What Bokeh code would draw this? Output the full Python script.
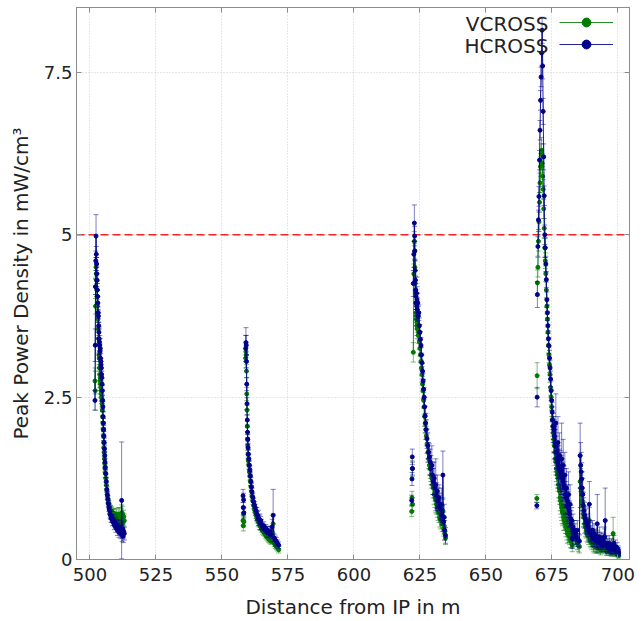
from bokeh.plotting import figure
from bokeh.models import (ColumnDataSource, Range1d, Span, LinearAxis, FixedTicker,
                          CustomJSTickFormatter, Label, Legend, LegendItem)
from bokeh.embed import file_html
from bokeh.resources import INLINE

# ---------------- data ----------------
x_ticks = [500, 525, 550, 575, 600, 625, 650, 675, 700]
y_ticks = [0, 2.5, 5, 7.5]
limit_value = 5.0

# cluster 1 (no detached points)
dist_1 = [501.9, 502.0, 502.1, 502.2, 502.3, 502.4, 502.5, 502.6, 502.7, 502.8,
          502.9, 503.0, 503.1, 503.2, 503.3, 503.4, 503.5, 503.6, 503.7, 503.8,
          503.9, 504.0, 504.1, 504.2, 504.3, 504.4, 504.5, 504.6, 504.7, 504.8,
          504.9, 505.0, 505.1, 505.2, 505.3, 505.4, 505.5, 505.6, 505.7, 505.8,
          506.0, 506.2, 506.4, 506.6, 506.8, 507.0, 507.2, 507.4, 507.6, 507.8,
          508.0, 508.3, 508.6, 508.9, 509.2, 509.5, 509.8, 510.1, 510.4, 510.7,
          511.0, 511.3, 511.6, 511.9, 512.0, 512.2, 512.4, 512.6, 512.8, 513.0]
hcross_1 = [2.45, 3.30, 4.20, 4.60, 4.98, 4.70, 4.55, 4.40, 4.30, 4.15,
            4.05, 3.95, 3.80, 3.75, 3.60, 3.50, 3.40, 3.35, 3.30, 3.20,
            3.25, 3.10, 3.05, 3.00, 2.95, 2.85, 2.80, 2.70, 2.60, 2.45,
            2.35, 2.20, 2.10, 2.00, 1.90, 1.80, 1.70, 1.60, 1.50, 1.42,
            1.32, 1.20, 1.08, 1.00, 0.93, 0.86, 0.80, 0.76, 0.70, 0.68,
            0.63, 0.66, 0.58, 0.61, 0.53, 0.57, 0.49, 0.54, 0.45, 0.51,
            0.42, 0.50, 0.40, 0.46, 0.91, 0.38, 0.47, 0.36, 0.43, 0.40]
hcross_err_1 = [0.15, 0.25, 0.12, 0.15, 0.33, 0.12, 0.10, 0.10, 0.10, 0.10,
                0.10, 0.10, 0.09, 0.09, 0.20, 0.15, 0.18, 0.20, 0.15, 0.12,
                0.15, 0.12, 0.12, 0.10, 0.10, 0.10, 0.10, 0.09, 0.08, 0.08,
                0.08, 0.08, 0.07, 0.07, 0.07, 0.07, 0.06, 0.06, 0.06, 0.06,
                0.06, 0.06, 0.05, 0.05, 0.05, 0.05, 0.06, 0.06, 0.06, 0.06,
                0.06, 0.08, 0.06, 0.08, 0.07, 0.08, 0.07, 0.08, 0.08, 0.10,
                0.08, 0.10, 0.08, 0.10, 0.90, 0.10, 0.12, 0.10, 0.10, 0.10]
vcross_1 = [2.75, 2.60, 3.90, 4.20, 4.50, 4.40, 4.30, 4.15, 4.05, 3.90,
            3.80, 3.70, 3.55, 3.40, 3.30, 3.15, 3.10, 2.95, 2.85, 2.75,
            2.80, 2.70, 2.65, 2.60, 2.55, 2.50, 2.45, 2.40, 2.30, 2.20,
            2.10, 2.00, 1.90, 1.80, 1.72, 1.65, 1.55, 1.48, 1.40, 1.33,
            1.25, 1.15, 1.06, 0.98, 0.92, 0.88, 0.84, 0.80, 0.77, 0.75,
            0.72, 0.74, 0.69, 0.71, 0.66, 0.70, 0.64, 0.68, 0.62, 0.70,
            0.60, 0.68, 0.58, 0.66, 0.72, 0.55, 0.70, 0.58, 0.66, 0.60]
vcross_err_1 = [0.20, 0.30, 0.12, 0.12, 0.15, 0.12, 0.10, 0.10, 0.10, 0.10,
                0.10, 0.10, 0.10, 0.10, 0.12, 0.15, 0.20, 0.25, 0.20, 0.20,
                0.20, 0.15, 0.15, 0.12, 0.12, 0.10, 0.10, 0.08, 0.08, 0.08,
                0.08, 0.07, 0.07, 0.07, 0.06, 0.06, 0.06, 0.06, 0.06, 0.06,
                0.06, 0.06, 0.06, 0.06, 0.06, 0.06, 0.07, 0.07, 0.07, 0.08,
                0.08, 0.08, 0.08, 0.08, 0.08, 0.08, 0.08, 0.10, 0.10, 0.10,
                0.10, 0.12, 0.10, 0.12, 0.12, 0.10, 0.12, 0.10, 0.10, 0.10]
detached_1 = 0

# cluster 2 (first 4 points detached)
dist_2 = [558.0, 558.1, 558.2, 558.3, 559.0, 559.1, 559.2, 559.3, 559.4, 559.5,
          559.6, 559.7, 559.8, 559.9, 560.0, 560.2, 560.4, 560.6, 560.8, 561.0,
          561.2, 561.4, 561.7, 562.0, 562.3, 562.6, 562.9, 563.2, 563.5, 563.8,
          564.1, 564.4, 564.7, 565.0, 565.4, 565.8, 566.2, 566.6, 567.0, 567.4,
          567.8, 568.2, 568.6, 569.0, 569.4, 569.8, 570.2, 570.6, 571.0, 571.5]
hcross_2 = [0.98, 0.80, 0.92, 0.72, 3.25, 3.34, 3.30, 3.05, 2.70, 2.40,
            2.15, 1.96, 1.85, 1.72, 1.62, 1.55, 1.45, 1.38, 1.29, 1.20,
            1.12, 1.04, 0.96, 0.89, 0.84, 0.80, 0.75, 0.70, 0.68, 0.64,
            0.62, 0.58, 0.60, 0.54, 0.50, 0.52, 0.46, 0.48, 0.42, 0.45,
            0.40, 0.43, 0.38, 0.50, 0.68, 0.33, 0.30, 0.28, 0.25, 0.22]
hcross_err_2 = [0.10, 0.08, 0.10, 0.08, 0.20, 0.23, 0.15, 0.10, 0.10, 0.09,
                0.08, 0.08, 0.08, 0.07, 0.07, 0.07, 0.07, 0.06, 0.06, 0.06,
                0.06, 0.06, 0.05, 0.05, 0.05, 0.05, 0.05, 0.10, 0.06, 0.12,
                0.06, 0.12, 0.06, 0.08, 0.06, 0.06, 0.06, 0.06, 0.08, 0.06,
                0.06, 0.08, 0.06, 0.12, 0.40, 0.06, 0.06, 0.06, 0.05, 0.05]
vcross_2 = [0.60, 0.52, 0.70, 0.58, 3.10, 3.20, 3.15, 2.90, 2.55, 2.30,
            2.05, 1.85, 1.75, 1.62, 1.52, 1.45, 1.35, 1.28, 1.20, 1.12,
            1.05, 0.97, 0.90, 0.83, 0.77, 0.73, 0.68, 0.64, 0.61, 0.58,
            0.55, 0.52, 0.50, 0.47, 0.44, 0.42, 0.40, 0.37, 0.35, 0.33,
            0.31, 0.30, 0.28, 0.42, 0.55, 0.25, 0.22, 0.20, 0.18, 0.15]
vcross_err_2 = [0.08, 0.08, 0.08, 0.08, 0.15, 0.15, 0.12, 0.10, 0.10, 0.08,
                0.08, 0.07, 0.07, 0.07, 0.06, 0.06, 0.06, 0.06, 0.06, 0.05,
                0.05, 0.05, 0.05, 0.05, 0.05, 0.05, 0.05, 0.06, 0.05, 0.06,
                0.05, 0.06, 0.05, 0.05, 0.05, 0.05, 0.05, 0.05, 0.05, 0.05,
                0.05, 0.05, 0.05, 0.10, 0.15, 0.05, 0.05, 0.05, 0.05, 0.05]
detached_2 = 4

# cluster 3 (first 4 points detached)
dist_3 = [621.9, 622.0, 622.1, 622.2, 622.5, 622.7, 622.9, 623.0, 623.1, 623.2,
          623.3, 623.4, 623.5, 623.6, 623.7, 623.8, 623.9, 624.0, 624.2, 624.4,
          624.6, 624.8, 625.0, 625.2, 625.4, 625.6, 625.8, 626.0, 626.2, 626.4,
          626.6, 626.8, 627.0, 627.2, 627.4, 627.7, 628.0, 628.3, 628.6, 628.9,
          629.2, 629.5, 629.8, 630.1, 630.4, 630.7, 631.0, 631.3, 631.6, 631.9,
          632.2, 632.5, 632.8, 633.1, 633.4, 633.7, 634.0, 634.2, 634.4, 634.7]
hcross_3 = [0.91, 1.24, 1.58, 1.40, 4.25, 4.70, 5.18, 4.98, 4.75, 4.45,
            4.30, 4.15, 4.05, 3.95, 4.10, 3.90, 4.00, 3.85, 3.95, 3.75,
            3.80, 3.60, 3.50, 3.39, 3.30, 3.15, 3.03, 2.90, 2.75, 2.62,
            2.50, 2.35, 2.21, 2.10, 2.00, 1.86, 1.75, 1.65, 1.58, 1.50,
            1.40, 1.45, 1.30, 1.20, 1.25, 1.10, 1.15, 0.98, 1.05, 0.90,
            0.95, 0.82, 0.78, 0.85, 0.68, 1.30, 0.58, 0.65, 0.45, 0.37]
hcross_err_3 = [0.08, 0.10, 0.12, 0.10, 0.20, 0.20, 0.28, 0.15, 0.15, 0.15,
                0.15, 0.20, 0.20, 0.20, 0.25, 0.20, 0.20, 0.18, 0.15, 0.15,
                0.12, 0.12, 0.12, 0.12, 0.12, 0.12, 0.12, 0.12, 0.12, 0.15,
                0.15, 0.15, 0.15, 0.15, 0.15, 0.15, 0.20, 0.15, 0.20, 0.20,
                0.20, 0.30, 0.20, 0.20, 0.25, 0.20, 0.40, 0.20, 0.25, 0.20,
                0.20, 0.20, 0.20, 0.25, 0.15, 0.37, 0.15, 0.20, 0.15, 0.12]
vcross_3 = [0.74, 0.95, 1.40, 0.85, 3.19, 4.40, 4.90, 4.75, 4.50, 4.25,
            4.10, 3.95, 3.80, 3.70, 3.75, 3.60, 3.65, 3.55, 3.60, 3.45,
            3.50, 3.35, 3.25, 3.15, 3.05, 2.95, 2.85, 2.70, 2.60, 2.45,
            2.35, 2.20, 2.10, 2.00, 1.90, 1.78, 1.65, 1.55, 1.45, 1.40,
            1.30, 1.25, 1.15, 1.10, 1.00, 0.95, 0.92, 0.85, 0.80, 0.75,
            0.72, 0.65, 0.62, 0.70, 0.55, 0.75, 0.48, 0.52, 0.40, 0.33]
vcross_err_3 = [0.08, 0.10, 0.12, 0.10, 0.15, 0.15, 0.15, 0.12, 0.12, 0.12,
                0.15, 0.15, 0.15, 0.15, 0.15, 0.15, 0.15, 0.15, 0.15, 0.12,
                0.12, 0.12, 0.12, 0.12, 0.12, 0.12, 0.12, 0.12, 0.12, 0.12,
                0.12, 0.15, 0.15, 0.15, 0.15, 0.15, 0.15, 0.15, 0.15, 0.15,
                0.15, 0.15, 0.15, 0.15, 0.15, 0.15, 0.20, 0.15, 0.15, 0.15,
                0.15, 0.15, 0.15, 0.15, 0.12, 0.20, 0.12, 0.12, 0.10, 0.10]
detached_3 = 4

# cluster 4 (first 3 points detached)
dist_4 = [669.3, 669.4, 669.5, 669.7, 669.9, 670.1, 670.3, 670.5, 670.7, 670.9,
          671.1, 671.3, 671.5, 671.7, 671.9, 672.1, 672.3, 672.5, 672.7, 672.9,
          673.1, 673.3, 673.5, 673.7, 673.9, 674.1, 674.3, 674.5, 674.7, 674.9,
          675.1, 675.3, 675.5, 675.7, 675.9, 676.1, 676.3, 676.5, 676.7, 676.9,
          677.1, 677.3, 677.5, 677.7, 677.9, 678.1, 678.3, 678.5, 678.7, 678.9,
          679.1, 679.3, 679.5, 679.7, 679.9, 680.1, 680.3, 680.5, 680.7, 680.9,
          681.1, 681.3, 681.5, 681.7, 681.9, 682.1, 682.3, 682.5, 682.7, 683.0,
          683.4, 683.8, 684.2, 684.6, 685.0, 685.4, 685.7, 685.9, 686.1, 686.3,
          686.5, 686.7, 686.9, 687.1, 687.4, 687.7, 688.0, 688.3, 688.6, 688.9,
          689.2, 689.5, 689.8, 690.1, 690.4, 690.7, 691.0, 691.3, 691.6, 691.9,
          692.2, 692.5, 692.8, 693.1, 693.4, 693.7, 694.0, 694.3, 694.6, 694.9,
          695.2, 695.5, 695.8, 696.1, 696.4, 696.7, 697.0, 697.3, 697.6, 697.9,
          698.2, 698.5, 698.8, 699.1, 699.4, 699.7, 699.9, 700.1, 700.2, 700.3]
hcross_4 = [0.83, 2.50, 4.08, 4.82, 5.23, 5.59, 6.15, 6.61, 7.07, 7.43,
            7.80, 8.15, 7.60, 6.90, 6.20, 5.60, 5.00, 4.80, 4.55, 4.31,
            4.00, 3.80, 3.60, 3.40, 3.29, 3.10, 2.95, 2.78, 2.60, 2.45,
            2.27, 2.15, 2.05, 2.00, 1.90, 1.80, 1.75, 2.10, 1.65, 1.55,
            1.50, 1.80, 1.45, 1.40, 1.60, 1.38, 1.35, 1.30, 1.55, 1.25,
            1.20, 1.45, 1.14, 1.10, 1.30, 1.00, 0.95, 1.10, 0.83, 0.90,
            0.80, 1.00, 0.75, 0.70, 0.85, 0.63, 0.55, 0.60, 0.32, 0.50,
            0.45, 0.40, 0.35, 0.45, 0.30, 0.28, 1.60, 1.45, 1.35, 1.24,
            1.10, 1.00, 0.83, 0.75, 0.68, 0.62, 0.58, 0.55, 0.50, 0.45,
            0.85, 0.42, 0.40, 0.36, 0.45, 0.32, 0.40, 0.30, 0.35, 0.28,
            0.55, 0.30, 0.26, 0.35, 0.25, 0.30, 0.22, 0.28, 0.22, 0.35,
            0.60, 0.25, 0.20, 0.22, 0.18, 0.25, 0.20, 0.16, 0.22, 0.18,
            0.17, 0.25, 0.15, 0.20, 0.14, 0.18, 0.12, 0.15, 0.12, 0.10]
hcross_err_4 = [0.05, 0.15, 0.20, 0.15, 0.15, 0.15, 0.15, 0.15, 0.15, 0.15,
                0.20, 0.20, 0.20, 0.20, 0.20, 0.15, 0.15, 0.15, 0.12, 0.12,
                0.12, 0.12, 0.12, 0.12, 0.12, 0.12, 0.12, 0.12, 0.15, 0.15,
                0.15, 0.20, 0.20, 0.20, 0.25, 0.25, 0.25, 0.45, 0.25, 0.25,
                0.25, 0.40, 0.30, 0.30, 0.35, 0.30, 0.30, 0.30, 0.55, 0.30,
                0.30, 0.40, 0.30, 0.30, 0.35, 0.30, 0.25, 0.30, 0.25, 0.25,
                0.25, 0.35, 0.25, 0.20, 0.30, 0.20, 0.20, 0.20, 0.15, 0.20,
                0.15, 0.15, 0.12, 0.15, 0.10, 0.10, 0.50, 0.35, 0.30, 0.25,
                0.25, 0.25, 0.20, 0.20, 0.20, 0.20, 0.20, 0.15, 0.15, 0.15,
                0.35, 0.15, 0.12, 0.12, 0.15, 0.12, 0.15, 0.10, 0.12, 0.10,
                0.45, 0.12, 0.10, 0.15, 0.10, 0.12, 0.10, 0.12, 0.10, 0.15,
                0.50, 0.10, 0.08, 0.10, 0.08, 0.12, 0.10, 0.08, 0.10, 0.08,
                0.08, 0.12, 0.06, 0.10, 0.06, 0.08, 0.06, 0.06, 0.06, 0.05]
vcross_4 = [0.94, 2.83, 4.26, 4.50, 4.90, 5.20, 5.50, 5.80, 6.05, 6.25,
            6.30, 6.10, 5.90, 5.70, 5.40, 5.10, 4.80, 4.60, 4.40, 4.15,
            3.90, 3.70, 3.50, 3.30, 3.15, 3.00, 2.85, 2.65, 2.50, 2.35,
            2.15, 2.05, 1.95, 1.85, 1.75, 1.65, 1.55, 1.50, 1.40, 1.35,
            1.30, 1.25, 1.15, 1.10, 1.05, 0.95, 0.90, 0.85, 0.80, 0.75,
            0.72, 0.80, 0.65, 0.60, 0.70, 0.55, 0.50, 0.60, 0.45, 0.40,
            0.50, 0.38, 0.45, 0.35, 0.42, 0.30, 0.28, 0.35, 0.22, 0.30,
            0.45, 0.35, 0.30, 0.25, 0.22, 0.20, 1.20, 1.10, 1.05, 1.00,
            0.90, 0.85, 0.70, 0.65, 0.55, 0.50, 0.45, 0.40, 0.38, 0.35,
            0.60, 0.30, 0.28, 0.25, 0.32, 0.22, 0.20, 0.25, 0.22, 0.18,
            0.30, 0.20, 0.18, 0.25, 0.15, 0.20, 0.18, 0.25, 0.20, 0.35,
            0.22, 0.15, 0.12, 0.18, 0.15, 0.12, 0.15, 0.12, 0.10, 0.12,
            0.40, 0.15, 0.10, 0.12, 0.10, 0.12, 0.08, 0.10, 0.08, 0.06]
vcross_err_4 = [0.06, 0.20, 0.20, 0.15, 0.15, 0.15, 0.15, 0.15, 0.15, 0.15,
                0.20, 0.15, 0.15, 0.15, 0.15, 0.15, 0.15, 0.12, 0.12, 0.12,
                0.12, 0.12, 0.12, 0.12, 0.12, 0.12, 0.12, 0.12, 0.12, 0.15,
                0.15, 0.15, 0.15, 0.20, 0.20, 0.20, 0.20, 0.20, 0.20, 0.20,
                0.20, 0.20, 0.20, 0.20, 0.20, 0.20, 0.20, 0.20, 0.20, 0.20,
                0.20, 0.25, 0.20, 0.15, 0.20, 0.15, 0.15, 0.20, 0.15, 0.15,
                0.15, 0.12, 0.15, 0.12, 0.15, 0.12, 0.10, 0.12, 0.10, 0.12,
                0.15, 0.12, 0.10, 0.10, 0.10, 0.10, 0.40, 0.30, 0.25, 0.25,
                0.20, 0.20, 0.20, 0.15, 0.15, 0.15, 0.12, 0.12, 0.12, 0.12,
                0.20, 0.10, 0.10, 0.10, 0.12, 0.10, 0.10, 0.10, 0.10, 0.08,
                0.15, 0.08, 0.08, 0.10, 0.08, 0.10, 0.08, 0.10, 0.08, 0.12,
                0.10, 0.08, 0.06, 0.08, 0.06, 0.06, 0.06, 0.06, 0.05, 0.06,
                0.25, 0.06, 0.05, 0.06, 0.05, 0.05, 0.04, 0.05, 0.04, 0.04]
detached_4 = 3

clusters = [
    (dist_1, vcross_1, vcross_err_1, hcross_1, hcross_err_1, detached_1),
    (dist_2, vcross_2, vcross_err_2, hcross_2, hcross_err_2, detached_2),
    (dist_3, vcross_3, vcross_err_3, hcross_3, hcross_err_3, detached_3),
    (dist_4, vcross_4, vcross_err_4, hcross_4, hcross_err_4, detached_4),
]

# ---------------- styling ----------------
FONT = "DejaVu Sans"
GREEN = "#007a00"
BLUE = "#00008b"
FRAME = "#8c8c8c"
TEXT = "#222222"

p = figure(width=643, height=621,
           x_range=Range1d(494.9, 704.4), y_range=Range1d(0, 8.5),
           output_backend="svg", toolbar_location=None,
           min_border_left=76, min_border_right=14, min_border_top=7, min_border_bottom=60)
p.background_fill_color = "white"
p.border_fill_color = "white"
p.outline_line_color = FRAME
p.outline_line_width = 1

xt = FixedTicker(ticks=x_ticks)
yt = FixedTicker(ticks=y_ticks)
fmt = CustomJSTickFormatter(code="return tick.toString();")
blank_fmt = CustomJSTickFormatter(code="return '';")

p.xaxis.ticker = xt
p.yaxis.ticker = yt
p.xaxis.formatter = fmt
p.yaxis.formatter = fmt
p.xgrid.ticker = xt
p.ygrid.ticker = yt
for g in (p.xgrid, p.ygrid):
    g.grid_line_color = "#cfcfcf"
    g.grid_line_dash = "1 2"
    g.grid_line_width = 1

p.xaxis.axis_label = "Distance from IP in m"
p.yaxis.axis_label = "Peak Power Density in mW/cm\u00b3"
for ax in (p.xaxis[0], p.yaxis[0]):
    ax.axis_line_color = FRAME
    ax.major_tick_line_color = FRAME
    ax.major_tick_in = 5
    ax.major_tick_out = 0
    ax.minor_tick_line_color = None
    ax.major_label_text_font = FONT
    ax.major_label_text_font_size = "18px"
    ax.major_label_text_color = TEXT
    ax.axis_label_text_font = FONT
    ax.axis_label_text_font_size = "20px"
    ax.axis_label_text_font_style = "normal"
    ax.axis_label_text_color = TEXT
p.xaxis.major_label_standoff = 8
p.xaxis.axis_label_standoff = 11
p.yaxis.major_label_standoff = 4
p.yaxis.axis_label_standoff = 8

# mirrored inward ticks on top and right
for side, tk in (("right", yt), ("above", xt)):
    ax = LinearAxis(ticker=tk, formatter=blank_fmt)
    ax.major_label_standoff = 0
    ax.axis_line_color = FRAME
    ax.major_tick_line_color = FRAME
    ax.major_tick_in = 5
    ax.major_tick_out = 0
    ax.minor_tick_line_color = None
    p.add_layout(ax, side)

# red limit line
p.add_layout(Span(location=limit_value, dimension="width", line_color="#ff2020",
                  line_dash="8 4", line_width=1.4, level="underlay"))

legend_renderers = {}
for color, name in ((GREEN, "VCROSS"), (BLUE, "HCROSS")):
    for ci, (d, v, ve, h, he, nd) in enumerate(clusters):
        vals = v if name == "VCROSS" else h
        errs = ve if name == "VCROSS" else he
        src = ColumnDataSource(dict(
            x=d, y=vals,
            lo=[a - b for a, b in zip(vals, errs)],
            hi=[a + b for a, b in zip(vals, errs)],
        ))
        line_src = ColumnDataSource(dict(x=d[nd:], y=vals[nd:]))
        lr = p.line("x", "y", source=line_src, line_color=color, line_width=1, line_alpha=0.85)
        p.segment(x0="x", y0="lo", x1="x", y1="hi", source=src,
                  line_color=color, line_alpha=0.5, line_width=1)
        p.scatter("x", "lo", source=src, marker="dash", size=5,
                  line_color=color, line_alpha=0.5, line_width=1)
        p.scatter("x", "hi", source=src, marker="dash", size=5,
                  line_color=color, line_alpha=0.5, line_width=1)
        sr = p.scatter("x", "y", source=src, marker="circle", size=4,
                       fill_color=color, line_color=color)
        if ci == 0:
            legend_renderers[name] = [lr, sr]

# legend: labels placed to the left of the glyph samples
legend = Legend(items=[LegendItem(label=" ", renderers=legend_renderers["VCROSS"]),
                       LegendItem(label=" ", renderers=legend_renderers["HCROSS"])],
                location=(481, 502), glyph_width=54, glyph_height=22,
                label_height=22, label_width=0, label_standoff=0,
                label_text_font_size="1px", padding=2, spacing=0, margin=0,
                border_line_alpha=0, background_fill_alpha=0)
p.add_layout(legend, "center")
p.add_layout(Label(x=673.7, y=8.25, text="VCROSS", text_align="right", text_baseline="middle",
                   text_font=FONT, text_font_size="20px", text_color=TEXT))
p.add_layout(Label(x=673.7, y=7.91, text="HCROSS", text_align="right", text_baseline="middle",
                   text_font=FONT, text_font_size="20px", text_color=TEXT))

open("out.html", "w").write(file_html(p, INLINE))
